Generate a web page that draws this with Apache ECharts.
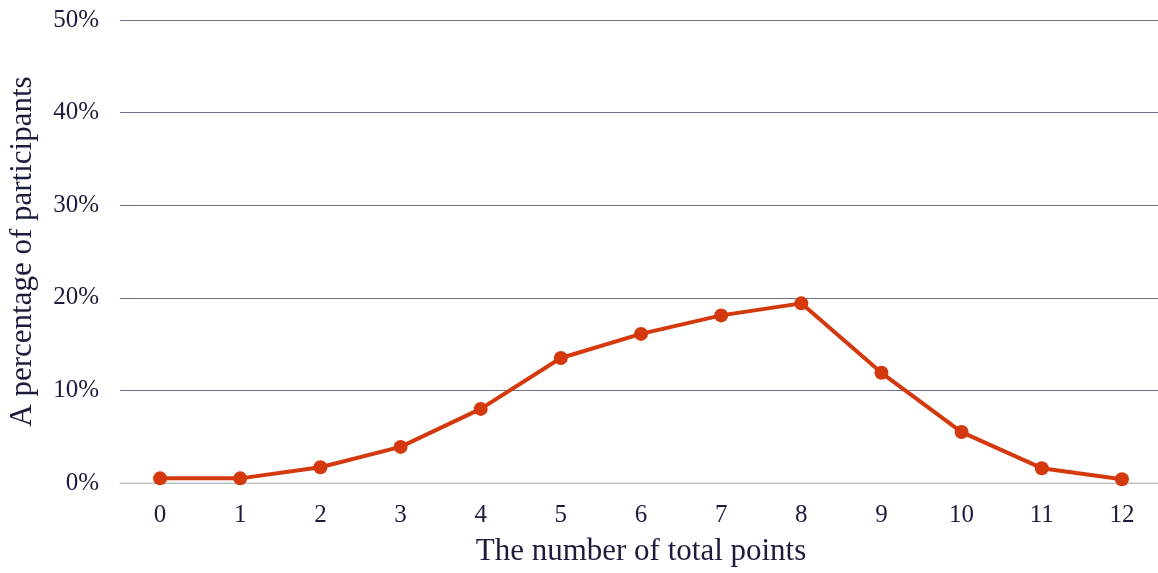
<!DOCTYPE html>
<html><head><meta charset="utf-8">
<script src="https://cdn.jsdelivr.net/npm/echarts@6/dist/echarts.min.js"></script>
<style>html,body{margin:0;padding:0;background:#fff}#c{width:1158px;height:573px}</style>
</head><body><div id="c"></div>
<script>
const categories = ['0','1','2','3','4','5','6','7','8','9','10','11','12'];
const percentages = [0.5, 0.5, 1.7, 3.9, 8.0, 13.5, 16.1, 18.1, 19.4, 11.9, 5.5, 1.6, 0.4];
const xTitle = 'The number of total points';
const yTitle = 'A percentage of participants';
const font = '"Liberation Serif", serif';
const textColor = '#1c1c3c';
const chart = echarts.init(document.getElementById('c'));
chart.setOption({
  animation: false,
  grid: {left: 120, top: 20, width: 1042, height: 463, outerBoundsMode: 'none', containLabel: false},
  xAxis: {
    type: 'category', data: categories, boundaryGap: true,
    axisLine: {show: true, lineStyle: {color: '#d9d9d9', width: 1.5}},
    axisTick: {show: false},
    axisLabel: {color: textColor, fontFamily: font, fontSize: 25, margin: 20},
    name: xTitle, nameLocation: 'middle', nameGap: 53,
    nameTextStyle: {color: textColor, fontFamily: font, fontSize: 31}
  },
  yAxis: {
    type: 'value', min: 0, max: 50, interval: 10,
    axisLine: {show: false}, axisTick: {show: false},
    axisLabel: {color: textColor, fontFamily: font, fontSize: 25, margin: 21, formatter: '{value}%'},
    splitLine: {lineStyle: {color: '#70708f', width: 1.2}},
    name: yTitle, nameLocation: 'middle', nameGap: 82,
    nameTextStyle: {color: textColor, fontFamily: font, fontSize: 31}
  },
  series: [{
    type: 'line', data: percentages,
    symbol: 'circle', symbolSize: 14,
    lineStyle: {color: '#d4380d', width: 4},
    itemStyle: {color: '#d4380d'}
  }]
});
</script></body></html>
